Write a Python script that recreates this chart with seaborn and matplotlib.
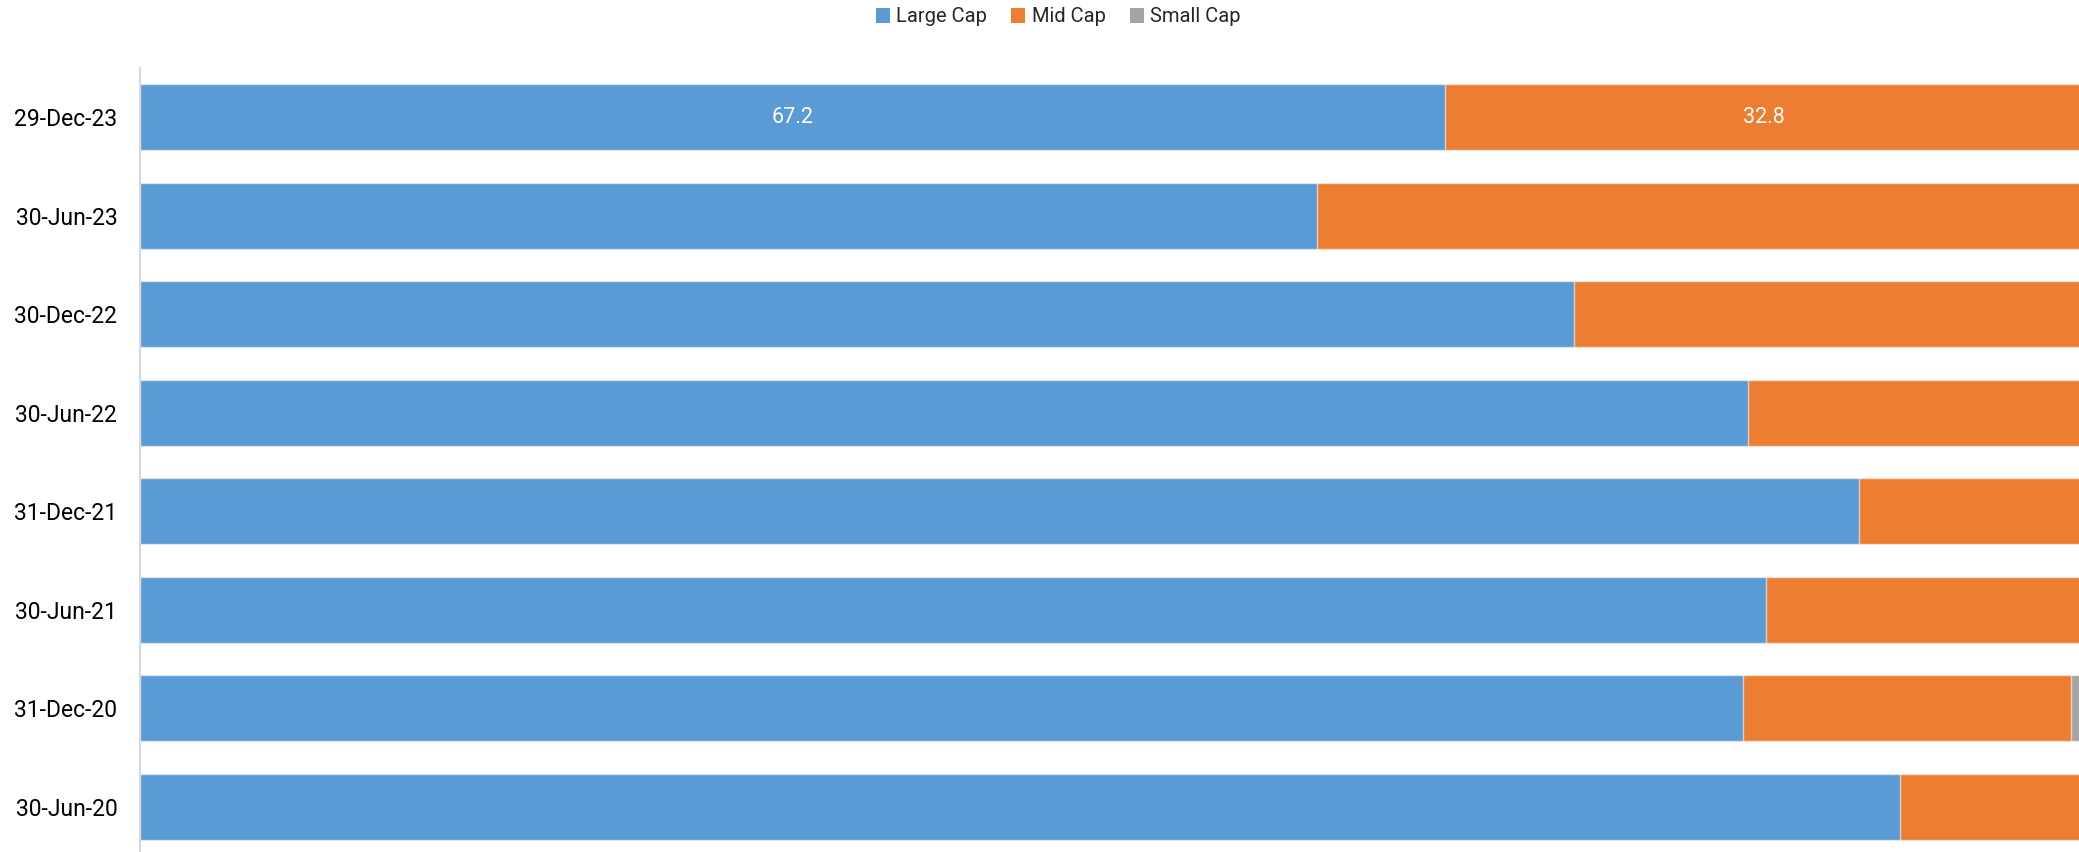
import matplotlib
matplotlib.use("Agg")
import matplotlib.pyplot as plt
from matplotlib.patches import Patch
import seaborn as sns
import pandas as pd
import numpy as np

dates = ["29-Dec-23", "30-Jun-23", "30-Dec-22", "30-Jun-22",
         "31-Dec-21", "30-Jun-21", "31-Dec-20", "30-Jun-20"]
large_cap = [67.2, 60.6, 73.8, 82.8, 88.5, 83.7, 82.5, 90.6]
small_cap = [0.0, 0.0, 0.0, 0.0, 0.0, 0.0, 0.6, 0.0]
mid_cap = [round(100 - l - s, 1) for l, s in zip(large_cap, small_cap)]
series_names = ["Large Cap", "Mid Cap", "Small Cap"]
colors = ["#5B9BD5", "#ED7D31", "#A5A5A5"]

sns.set_theme(style="white")
plt.rcParams["font.family"] = ["Roboto", "DejaVu Sans"]

df = pd.DataFrame({"date": dates, "large": large_cap, "mid": mid_cap, "small": small_cap})
df["c_large"] = df["large"]
df["c_mid"] = df["large"] + df["mid"]
df["c_small"] = df["large"] + df["mid"] + df["small"]

fig = plt.figure(figsize=(20.79, 8.52), dpi=100)
ax = fig.add_axes([139.5 / 2079, -4.0 / 852, (2082.6 - 139.5) / 2079, 788 / 852])

for col, c in zip(["c_small", "c_mid", "c_large"], colors[::-1]):
    sns.barplot(data=df, x=col, y="date", order=dates, orient="h", color=c,
                width=0.667, edgecolor=(1, 1, 1, 0.6), linewidth=1.0,
                saturation=1, ax=ax)

ax.set_xlim(0, 100)
ax.set_ylim(7.5, -0.5)
ax.set_xlabel("")
ax.set_ylabel("")
ax.set_xticks([])
for s in ["top", "right", "bottom"]:
    ax.spines[s].set_visible(False)
ax.spines["left"].set_color("#D9D9D9")
ax.spines["left"].set_linewidth(1.5)
ax.tick_params(axis="y", length=0, pad=16, labelsize=16.5, labelcolor="#000000")

# data labels on the first row
ax.text(large_cap[0] / 2, 0, f"{large_cap[0]:.1f}", ha="center", va="center",
        color="white", fontsize=15.5)
ax.text(large_cap[0] + mid_cap[0] / 2, 0, f"{mid_cap[0]:.1f}", ha="center", va="center",
        color="white", fontsize=15.5)

handles = [Patch(facecolor=c, edgecolor="none", label=n) for n, c in zip(series_names, colors)]
fig.legend(handles=handles, loc="center", bbox_to_anchor=(0.509, 1 - 17 / 852), ncol=3,
           frameon=False, fontsize=14.5, handlelength=0.7, handleheight=0.7,
           handletextpad=0.3, columnspacing=1.2)

fig.savefig("out.png", dpi=100)
